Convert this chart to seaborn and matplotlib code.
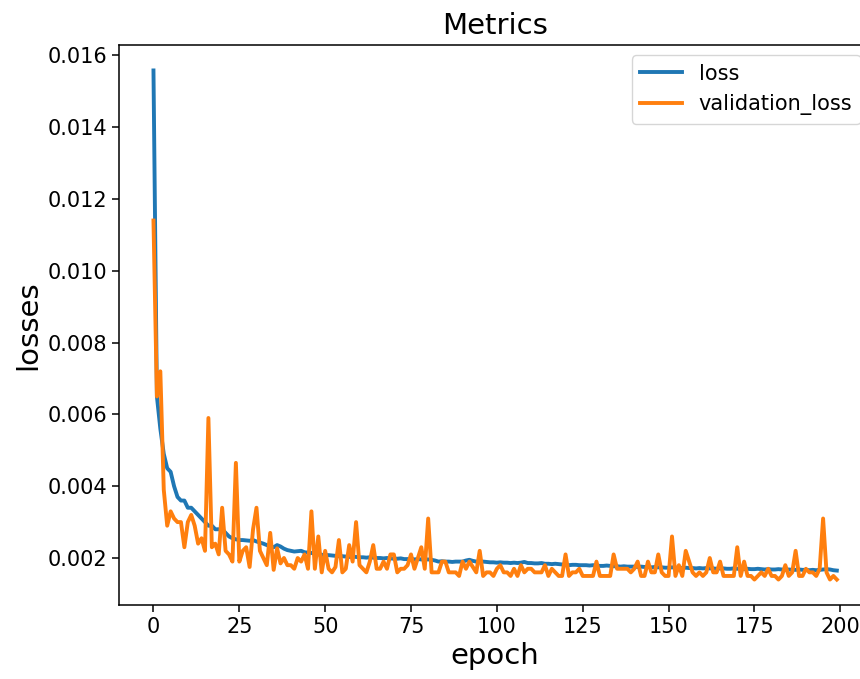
import numpy as np
import pandas as pd
import matplotlib
matplotlib.use("Agg")
import matplotlib.pyplot as plt
import seaborn as sns

loss = [
    0.01558, 0.0065, 0.0056, 0.0049, 0.0045, 0.0044, 0.0040, 0.0037, 0.0036, 0.0036,
    0.0034, 0.0034, 0.0033, 0.0032, 0.0031, 0.0030, 0.0029, 0.0029, 0.0028, 0.0028,
    0.0028, 0.0027, 0.0026, 0.00255, 0.00252, 0.0025, 0.0025, 0.00249, 0.00248, 0.0025,
    0.00246, 0.00243, 0.0024, 0.00236, 0.00232, 0.0023, 0.00236, 0.00232, 0.00226, 0.00222,
    0.0022, 0.00218, 0.00219, 0.0022, 0.00216, 0.00215, 0.00214, 0.00212, 0.0021, 0.00209,
    0.00208, 0.00208, 0.00207, 0.00206, 0.00205, 0.00205, 0.00204, 0.00203, 0.00204, 0.00203,
    0.00202, 0.00202, 0.00201, 0.00202, 0.00201, 0.00200, 0.00200, 0.00199, 0.00200, 0.00199,
    0.00198, 0.00198, 0.00199, 0.00197, 0.00197, 0.00198, 0.00196, 0.00197, 0.00196, 0.00196,
    0.00196, 0.00195, 0.00193, 0.00190, 0.00191, 0.00190, 0.00190, 0.00189, 0.00190, 0.00190,
    0.00190, 0.00193, 0.00195, 0.00192, 0.00190, 0.00189, 0.00190, 0.00189, 0.00188, 0.00188,
    0.00187, 0.00188, 0.00187, 0.00187, 0.00186, 0.00187, 0.00186, 0.00187, 0.00189, 0.00186,
    0.00186, 0.00185, 0.00185, 0.00186, 0.00184, 0.00184, 0.00183, 0.00184, 0.00183, 0.00182,
    0.00182, 0.00180, 0.00181, 0.00181, 0.00180, 0.00180, 0.00180, 0.00179, 0.00180, 0.00179,
    0.00178, 0.00178, 0.00179, 0.00178, 0.00177, 0.00177, 0.00176, 0.00177, 0.00176, 0.00176,
    0.00176, 0.00175, 0.00176, 0.00175, 0.00175, 0.00174, 0.00175, 0.00174, 0.00174, 0.00173,
    0.00173, 0.00174, 0.00173, 0.00173, 0.00172, 0.00173, 0.00172, 0.00172, 0.00171, 0.00172,
    0.00171, 0.00172, 0.00171, 0.00171, 0.00170, 0.00171, 0.00171, 0.00170, 0.00170, 0.00171,
    0.00170, 0.00170, 0.00169, 0.00170, 0.00169, 0.00169, 0.00170, 0.00169, 0.00168, 0.00169,
    0.00168, 0.00168, 0.00169, 0.00168, 0.00167, 0.00168, 0.00167, 0.00167, 0.00168, 0.00167,
    0.00167, 0.00166, 0.00167, 0.00166, 0.00167, 0.00168, 0.00169, 0.00168, 0.00166, 0.00165,
]

validation_loss = [
    0.0114, 0.0065, 0.0072, 0.0039, 0.0029, 0.0033, 0.0031, 0.0030, 0.0030, 0.0023,
    0.0030, 0.0032, 0.0029, 0.0024, 0.00255, 0.0022, 0.0059, 0.0023, 0.0024, 0.0021,
    0.0034, 0.0022, 0.0021, 0.0019, 0.00465, 0.0019, 0.0022, 0.0023, 0.00175, 0.0028,
    0.0034, 0.0022, 0.0020, 0.0018, 0.0027, 0.00167, 0.00227, 0.00185, 0.0020, 0.0018,
    0.0018, 0.0017, 0.0020, 0.0019, 0.0021, 0.0017, 0.0033, 0.0017, 0.0026, 0.0016,
    0.0022, 0.0017, 0.0016, 0.00175, 0.0025, 0.0016, 0.0017, 0.00236, 0.0019, 0.0030,
    0.0018, 0.0017, 0.0016, 0.0019, 0.00236, 0.0017, 0.0017, 0.0019, 0.0017, 0.0021,
    0.0021, 0.0016, 0.0017, 0.0017, 0.0018, 0.0021, 0.0017, 0.0020, 0.0023, 0.0017,
    0.0031, 0.0016, 0.0016, 0.0016, 0.0019, 0.0019, 0.0016, 0.0016, 0.0016, 0.0015,
    0.0019, 0.0017, 0.0019, 0.00175, 0.0016, 0.0022, 0.0015, 0.0016, 0.0016, 0.0015,
    0.0017, 0.0018, 0.0016, 0.0016, 0.0015, 0.0017, 0.0015, 0.0018, 0.0016, 0.0017,
    0.0017, 0.0016, 0.0016, 0.0016, 0.0018, 0.0015, 0.0017, 0.0016, 0.0015, 0.0015,
    0.0021, 0.0015, 0.0016, 0.0016, 0.0017, 0.0015, 0.0015, 0.0015, 0.0015, 0.0019,
    0.0015, 0.0015, 0.0015, 0.0015, 0.0021, 0.0017, 0.0017, 0.0017, 0.0017, 0.0016,
    0.0017, 0.0019, 0.0015, 0.0015, 0.0019, 0.0016, 0.0016, 0.0021, 0.0016, 0.0015,
    0.0015, 0.0026, 0.0015, 0.0018, 0.0015, 0.0022, 0.0019, 0.0016, 0.0015, 0.0016,
    0.0015, 0.0016, 0.0020, 0.0016, 0.0016, 0.0019, 0.0015, 0.0015, 0.0015, 0.0015,
    0.0023, 0.0015, 0.0019, 0.0015, 0.0015, 0.0014, 0.0015, 0.0016, 0.0015, 0.0017,
    0.0015, 0.0015, 0.0014, 0.0015, 0.0018, 0.0015, 0.0016, 0.0022, 0.0015, 0.0015,
    0.0017, 0.0016, 0.0016, 0.0015, 0.0017, 0.0031, 0.0016, 0.0014, 0.0015, 0.0014,
]

series_names = ["loss", "validation_loss"]
epochs = np.arange(len(loss))

df = pd.DataFrame({
    "epoch": np.concatenate([epochs, epochs]),
    "value": np.concatenate([loss, validation_loss]),
    "series": [series_names[0]] * len(loss) + [series_names[1]] * len(validation_loss),
})

plt.rcParams["font.family"] = ["DejaVu Sans"]

fig = plt.figure(figsize=(8.6, 6.79), dpi=100)
# the axes extends slightly past the right edge of the canvas (as in the reference)
ax = fig.add_axes([119.3 / 860, 1 - 605 / 679, (871 - 119.3) / 860, (605 - 45) / 679])

sns.lineplot(data=df, x="epoch", y="value", hue="series",
             palette=["#1f77b4", "#ff7f0e"], linewidth=2.8, ax=ax)

ax.set_title("Metrics", fontsize=21, pad=8, color="black")
ax.set_xlabel("epoch", fontsize=21, color="black")
ax.set_ylabel("losses", fontsize=21, color="black")
ax.set_xticks([0, 25, 50, 75, 100, 125, 150, 175, 200])
ax.set_yticks([0.002, 0.004, 0.006, 0.008, 0.010, 0.012, 0.014, 0.016])
ax.tick_params(labelsize=15, direction="out", length=5, width=1.1, colors="black")
for s in ax.spines.values():
    s.set_visible(True)
    s.set_color("black")
    s.set_linewidth(1.1)

leg = ax.legend(loc="upper right", fontsize=15, frameon=True)
for line in leg.get_lines():
    line.set_linewidth(2.8)

fig.savefig("out.png", dpi=100)
